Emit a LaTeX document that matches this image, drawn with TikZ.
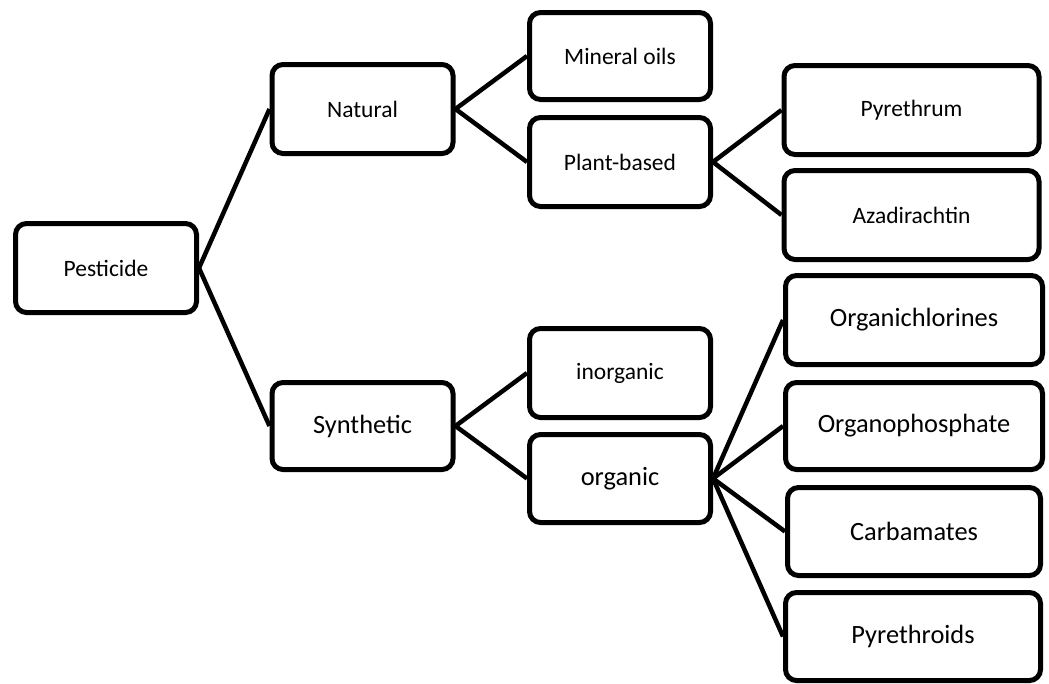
\documentclass[tikz,border=0pt]{standalone}
\usepackage{fontspec}
\setmainfont{Carlito}
\usetikzlibrary{positioning}

\begin{document}
\begin{tikzpicture}[x=1pt,y=-1pt,
  box/.style={draw,line width=5pt,rounded corners=11pt,minimum width=181pt,minimum height=89pt,inner sep=0pt,font=\fontsize{23.5}{28}\selectfont},
  widebox/.style={box,minimum width=255pt},
  bigtext/.style={font=\fontsize{26.4}{31}\selectfont},
  link/.style={line width=4.5pt}]
\useasboundingbox (0,0) rectangle (1049,683);
% root and first level
\node[box] (pest) at (106,268) {Pesticide};
\node[box] (nat) at (362.5,109) {Natural};
\node[box,bigtext,minimum height=87pt] (syn) at (362.5,426) {Synthetic};
% second level
\node[box,minimum height=87pt] (mineral) at (620,56) {Mineral oils};
\node[box] (plant) at (620,162) {Plant-based};
\node[box] (inorg) at (620,373) {inorganic};
\node[box,bigtext,minimum height=88pt] (org) at (620,478.5) {organic};
% third level
\node[widebox] (pyrum) at (911.5,110) {Pyrethrum};
\node[widebox] (azad) at (911.5,215) {Azadirachtin};
\node[widebox,bigtext,minimum width=257pt] (ochl) at (914,320) {Organichlorines};
\node[widebox,bigtext,minimum width=257pt,minimum height=87pt] (ophos) at (914,426) {Organophosphate};
\node[widebox,bigtext,minimum width=253pt,minimum height=88pt] (carb) at (914,531.5) {Carbamates};
\node[widebox,bigtext,minimum height=88pt] (pyroid) at (913,636.5) {Pyrethroids};
% connectors
\draw[link] (nat.west) -- (pest.east) -- (syn.west);
\draw[link] (mineral.west) -- (nat.east) -- (plant.west);
\draw[link] (pyrum.west) -- (plant.east) -- (azad.west);
\draw[link] (inorg.west) -- (syn.east) -- (org.west);
\draw[link] (org.east) -- (ochl.west);
\draw[link] (org.east) -- (ophos.west);
\draw[link] (org.east) -- (carb.west);
\draw[link] (org.east) -- (pyroid.west);
\end{tikzpicture}
\end{document}
